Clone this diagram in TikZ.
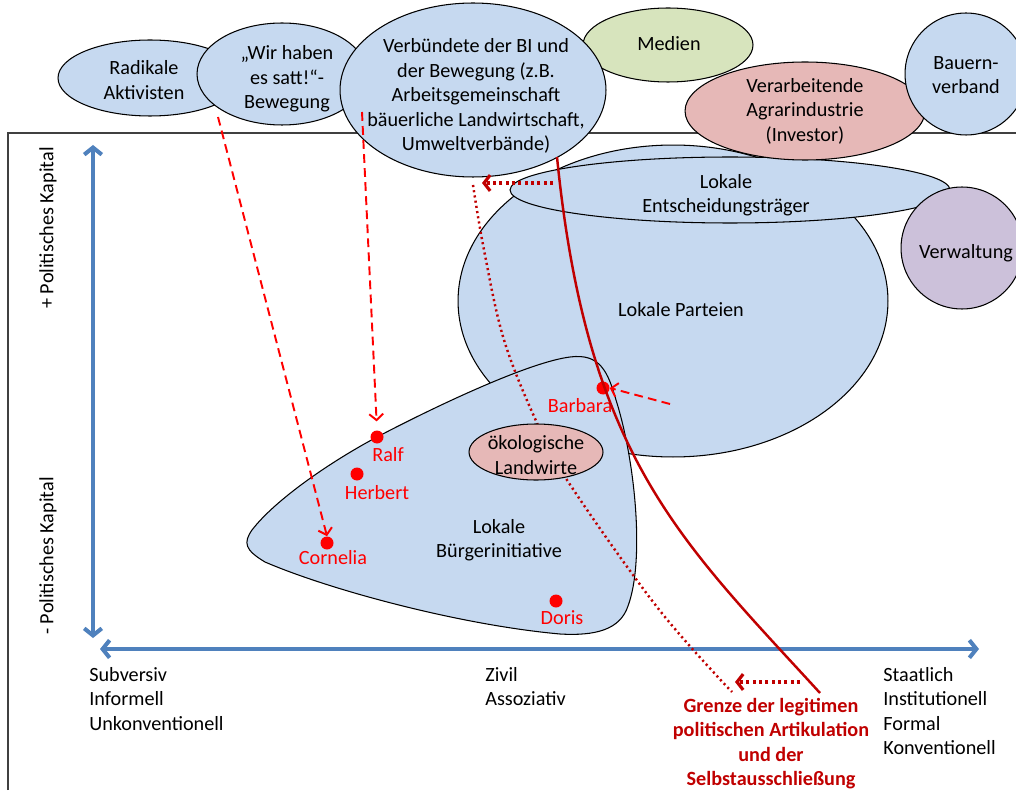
\documentclass[tikz,border=0pt]{standalone}
\usepackage{fontspec}
\setmainfont{Carlito}
\usetikzlibrary{arrows.meta,positioning,shapes.geometric}
\definecolor{blobblue}{RGB}{198,217,240}
\definecolor{blobgreen}{RGB}{215,228,189}
\definecolor{blobrose}{RGB}{230,184,183}
\definecolor{blobviolet}{RGB}{204,193,218}
\definecolor{axisblue}{RGB}{79,129,189}
\definecolor{grenzred}{RGB}{192,0,0}
\definecolor{actorred}{RGB}{255,0,0}
\definecolor{framegray}{RGB}{64,64,64}

\tikzset{
  blob/.style={ellipse, draw=black, line width=0.6pt, inner sep=0pt, fill=blobblue},
  blobtext/.style={align=center, inner sep=0pt},
  achse/.style={axisblue, line width=2.3pt, {Straight Barb[length=4pt,width=10pt]}-{Straight Barb[length=4pt,width=10pt]}},
  punkt/.style={circle, fill=actorred, inner sep=0pt, minimum size=0.26cm},
  akteur/.style={text=actorred, inner sep=0pt},
  dashpfeil/.style={actorred, line width=1.1pt, dash pattern=on 5pt off 3pt, -{Straight Barb[length=3.5pt,width=8pt]}},
  punktpfeil/.style={grenzred, line width=1.8pt, dash pattern=on 1.8pt off 1.8pt, -{Straight Barb[length=3.5pt,width=9pt]}},
  grenzlinie/.style={grenzred, line width=1.4pt},
  grenzpunkte/.style={grenzred, line width=1.4pt, dash pattern=on 1.2pt off 1.8pt},
  grenztext/.style={text=grenzred, align=center, inner sep=0pt, font=\fontsize{11.5}{13.9}\selectfont\bfseries},
  achsentext/.style={align=left, inner sep=0pt, anchor=north west}
}

\begin{document}
\begin{tikzpicture}[x=0.02cm, y=-0.02cm, every node/.style={font=\fontsize{11.5}{13.9}\selectfont}]
  \useasboundingbox (0,0) rectangle (1016,790);
  % Rahmen und Achsen
  \draw[framegray, line width=0.8pt] (8,790) -- (8,133) -- (1016,133);
  \coordinate (yoben) at (93,145);
  \coordinate (yunten) at (93,638);
  \coordinate (xlinks) at (100,649);
  \coordinate (xrechts) at (979,649);
  \draw[achse] (yoben) -- (yunten);
  \draw[achse] (xlinks) -- (xrechts);
  \node[rotate=90] (pluskap) at (48,228) {+ Politisches Kapital};
  \node[rotate=90] (minuskap) at (48,556) {- Politisches Kapital};
  \node[achsentext] (subversiv) at (89,667) {Subversiv\\Informell\\Unkonventionell};
  \node[achsentext] (zivil) at (485,667) {Zivil\\Assoziativ};
  \node[achsentext] (staatlich) at (883,667) {Staatlich\\Institutionell\\Formal\\Konventionell};

  % Akteure
  \node[blob, minimum width=8.6cm, minimum height=6.24cm] (parteien) at (673,301) {};
  \node[blob, minimum width=8.8cm, minimum height=1.32cm] (entscheid) at (730,190) {};
  \node[blob, circle, fill=blobviolet, minimum size=2.44cm] (verwaltung) at (962,248) {};
  \node[blob, minimum width=3.68cm, minimum height=1.52cm] (radikale) at (150,78) {};
  \node[blob, minimum width=3.4cm, minimum height=2.04cm] (wirhaben) at (282,74) {};
  \node[blob, fill=blobgreen, minimum width=3.4cm, minimum height=1.48cm] (medien) at (668,45) {};
  \node[blob, minimum width=5.32cm, minimum height=3.48cm] (verbuendete) at (473,90) {};
  \node[blob, fill=blobrose, minimum width=4.8cm, minimum height=1.96cm] (agrar) at (805,111) {};
  \node[blob, circle, minimum size=2.44cm] (bauern) at (966,74) {};

  % Buergerinitiative
  \draw[fill=blobblue, line width=0.6pt] (252,530)
    .. controls (275,500) and (330,462) .. (377,437)
    .. controls (440,404) and (530,362) .. (570,357)
    .. controls (600,353) and (608,372) .. (616,400)
    .. controls (635,460) and (645,560) .. (628,606)
    .. controls (620,630) and (595,636) .. (560,634)
    .. controls (460,625) and (330,590) .. (265,562)
    .. controls (245,550) and (243,543) .. cycle;
  \draw[grenzpunkte] plot[smooth, tension=0.6] coordinates {(473,185) (484,250) (504,340) (537,423) (567,480) (657,607) (732,692)};
  \node[blob, fill=blobrose, minimum width=2.68cm, minimum height=1.12cm] (oeko) at (536,452) {};

  % Beschriftungen
  \node[blobtext] (radikaletext) at (144,80) {Radikale\\Aktivisten};
  \node[blobtext] (wirhabentext) at (287,79) {„Wir haben\\es satt!“-\\Bewegung};
  \node[blobtext] (verbuendetetext) at (476,96) {Verbündete der BI und\\der Bewegung (z.B.\\Arbeitsgemeinschaft\\bäuerliche Landwirtschaft,\\Umweltverbände)};
  \node[blobtext] (medientext) at (669,44) {Medien};
  \node[blobtext] (agrartext) at (805,111) {Verarbeitende\\Agrarindustrie\\(Investor)};
  \node[blobtext] (bauerntext) at (966,75) {Bauern-\\verband};
  \node[blobtext] (entscheidtext) at (726,195) {Lokale\\Entscheidungsträger};
  \node[blobtext] (verwaltungtext) at (966,253) {Verwaltung};
  \node[blobtext] (parteientext) at (681,310) {Lokale Parteien};
  \node[blobtext] (oekotext) at (536,455) {ökologische\\Landwirte};
  \node[blobtext] (bitext) at (499,540) {Lokale\\Bürgerinitiative};

  % Personen
  \node[punkt] (ralf) at (377,437) {};
  \node[punkt] (herbert) at (357,474) {};
  \node[punkt] (cornelia) at (327,543) {};
  \node[punkt] (doris) at (556,601) {};
  \node[punkt] (barbara) at (603,388) {};
  \node[akteur] (ralfname) at (388,455) {Ralf};
  \node[akteur] (herbertname) at (377,493) {Herbert};
  \node[akteur] (cornelianame) at (333,558) {Cornelia};
  \node[akteur] (dorisname) at (562,618) {Doris};
  \node[akteur] (barbaraname) at (580,406) {Barbara};

  % Pfeile
  \coordinate (radikalestart) at (218,117);
  \coordinate (wirhabenstart) at (362,112);
  \coordinate (barbarastart) at (670,404);
  \draw[dashpfeil] (radikalestart) -- (cornelia.north);
  \draw[dashpfeil, shorten >=5pt] (wirhabenstart) -- (ralf.north);
  \draw[dashpfeil] (barbarastart) -- (barbara.east);
  \coordinate (obenstart) at (553,183);
  \coordinate (obenziel) at (482,183);
  \coordinate (untenstart) at (800,682);
  \coordinate (untenziel) at (735,682);
  \draw[punktpfeil] (obenstart) -- (obenziel);
  \draw[punktpfeil] (untenstart) -- (untenziel);

  % Grenze
  \coordinate (grenzoben) at (557,157);
  \coordinate (grenzunten) at (820,693);
  \draw[grenzlinie] (grenzoben) .. controls (587,457) and (680,540) .. (grenzunten);
  \node[grenztext, anchor=north] (grenze) at (771,698) {Grenze der legitimen\\politischen Artikulation\\und der\\Selbstausschließung};
\end{tikzpicture}
\end{document}
